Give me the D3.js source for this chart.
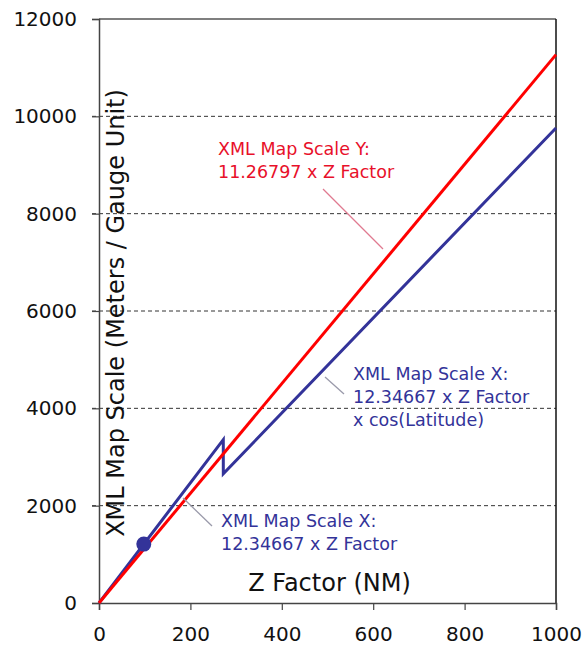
<!DOCTYPE html>
<html>
<head>
<meta charset="utf-8">
<script src="https://cdn.jsdelivr.net/npm/d3@7"></script>
<style>
  html, body { margin: 0; padding: 0; background: #fff; }
  svg { display: block; }
  text { font-family: "DejaVu Sans", Verdana, sans-serif; }
</style>
</head>
<body>
<svg id="chart" width="587" height="652"></svg>
<script>
// Z Factor (NM) vs XML map scale (meters per gauge unit)
const xTicks = [0, 200, 400, 600, 800, 1000];
const yTicks = [0, 2000, 4000, 6000, 8000, 10000, 12000];
const gridValues = [2000, 4000, 6000, 8000, 10000];

// Scale Y: 11.26797 x Z Factor
const scaleYZ = [0, 1000];
const scaleYVal = [0, 11268];

// Scale X: 12.34667 x Z Factor, then x cos(Latitude) after the jump
const scaleXZ = [0, 272, 272, 1000];
const scaleXVal = [0, 3358, 2655, 9760];

// Marked point on the Scale X line
const markerZ = [98];
const markerVal = [1210];

const redColor = "#ff0000";
const blueColor = "#333399";

const W = 587, H = 652;
const margin = { top: 19, right: 31, bottom: 49, left: 99 };
const iw = W - margin.left - margin.right;
const ih = H - margin.top - margin.bottom;

const svg = d3.select("#chart");
const g = svg.append("g").attr("transform", `translate(${margin.left},${margin.top})`);

const x = d3.scaleLinear().domain([0, 1000]).range([0, iw]);
const y = d3.scaleLinear().domain([0, 12000]).range([ih, 0]);

// dashed gridlines
g.append("g").selectAll("line").data(gridValues).join("line")
  .attr("x1", -7).attr("x2", iw)
  .attr("y1", d => y(d)).attr("y2", d => y(d))
  .attr("stroke", "#333").attr("stroke-width", 1)
  .attr("stroke-dasharray", "4,3");

// frame (top and right)
g.append("line").attr("x1", 0).attr("x2", iw).attr("y1", 0).attr("y2", 0)
  .attr("stroke", "#555").attr("stroke-width", 1.5);
g.append("line").attr("x1", iw).attr("x2", iw).attr("y1", 0).attr("y2", ih)
  .attr("stroke", "#111").attr("stroke-width", 1.5);

// axes
const xAxis = g.append("g").attr("transform", `translate(0,${ih})`)
  .call(d3.axisBottom(x).tickValues(xTicks).tickSize(7).tickPadding(16).tickFormat(d3.format("d")));
const yAxis = g.append("g")
  .call(d3.axisLeft(y).tickValues(yTicks).tickSize(7).tickPadding(15).tickFormat(d3.format("d")));
[xAxis, yAxis].forEach(a => {
  a.select(".domain").attr("stroke", "#444").attr("stroke-width", 1.5);
  a.selectAll(".tick line").attr("stroke", "#444").attr("stroke-width", 1.2);
  a.selectAll(".tick text").attr("fill", "#111")
    .style("font-family", "'DejaVu Sans', sans-serif").style("font-size", "20px");
});
xAxis.selectAll(".tick text").attr("dy", "0.75em");

const line = d3.line().x(d => x(d[0])).y(d => y(d[1]));

// Scale X (blue)
g.append("path")
  .datum(scaleXZ.map((z, i) => [z, scaleXVal[i]]))
  .attr("d", line).attr("fill", "none")
  .attr("stroke", blueColor).attr("stroke-width", 3)
  .attr("stroke-linejoin", "miter");

// Scale Y (red), drawn over the blue line
g.append("path")
  .datum(scaleYZ.map((z, i) => [z, scaleYVal[i]]))
  .attr("d", line).attr("fill", "none")
  .attr("stroke", redColor).attr("stroke-width", 3);

// marker on the Scale X line
g.selectAll("circle.marker").data(markerZ.map((z, i) => [z, markerVal[i]])).join("circle")
  .attr("class", "marker")
  .attr("cx", d => x(d[0])).attr("cy", d => y(d[1])).attr("r", 7.5)
  .attr("fill", blueColor);

// leader lines
const leaders = [
  { x1: 323, y1: 189, x2: 383, y2: 249, color: "#e07a90" },
  { x1: 325, y1: 377, x2: 344, y2: 394, color: "#9a9aaa" },
  { x1: 183, y1: 498, x2: 212, y2: 526, color: "#9a9aaa" }
];
svg.append("g").selectAll("line").data(leaders).join("line")
  .attr("x1", d => d.x1).attr("y1", d => d.y1).attr("x2", d => d.x2).attr("y2", d => d.y2)
  .attr("stroke", d => d.color).attr("stroke-width", 1.3);

// annotations
const notes = [
  { x: 218, y: 155, lines: ["XML Map Scale Y:", "11.26797 x Z Factor"], color: "#e8102a" },
  { x: 353, y: 380, lines: ["XML Map Scale X:", "12.34667 x Z Factor", "x cos(Latitude)"], color: blueColor },
  { x: 221, y: 527, lines: ["XML Map Scale X:", "12.34667 x Z Factor"], color: blueColor }
];
notes.forEach(n => {
  const t = svg.append("text").attr("x", n.x).attr("y", n.y)
    .attr("fill", n.color).style("font-size", "17.5px");
  n.lines.forEach((s, i) => {
    t.append("tspan").attr("x", n.x).attr("dy", i === 0 ? 0 : 23).text(s);
  });
});

// axis titles
svg.append("text").attr("x", 329.5).attr("y", 591)
  .attr("text-anchor", "middle").attr("fill", "#111")
  .style("font-size", "24px").text("Z Factor (NM)");
svg.append("text")
  .attr("transform", "translate(124,313) rotate(-90)")
  .attr("text-anchor", "middle").attr("fill", "#111")
  .style("font-size", "24px").text("XML Map Scale (Meters / Gauge Unit)");
</script>
</body>
</html>
